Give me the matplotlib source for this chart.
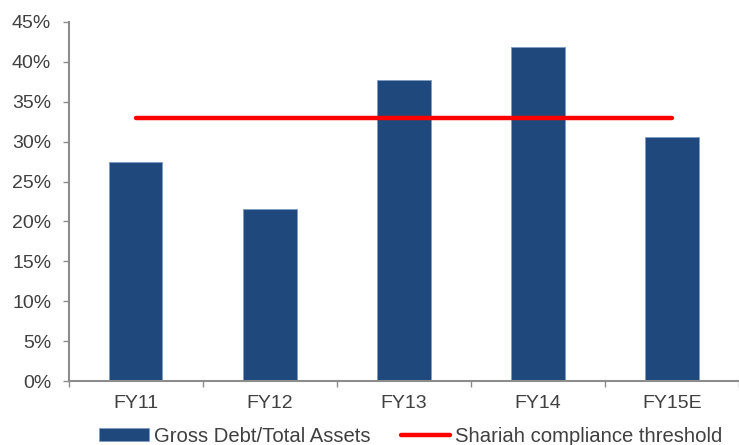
import numpy as np
import matplotlib
matplotlib.use("Agg")
import matplotlib.pyplot as plt
from matplotlib.ticker import PercentFormatter

years = ["FY11", "FY12", "FY13", "FY14", "FY15E"]
debt_to_assets = [27.4, 21.5, 37.7, 41.9, 30.6]
threshold = [33.0, 33.0, 33.0, 33.0, 33.0]

plt.rcParams['font.family'] = ['Liberation Sans', 'DejaVu Sans']
plt.rcParams['font.size'] = 14
text_col = '#404040'
axis_col = '#8c8c8c'

fig = plt.figure(figsize=(7.39, 4.45), dpi=100)
ax = fig.add_axes([0.0928, 0.1438, 0.9072, 0.8068])

x = np.arange(len(years))
bars = ax.bar(x, debt_to_assets, width=0.40, color='#1f497d', edgecolor='#7f9cc4',
              linewidth=0.6, label='Gross Debt/Total Assets', zorder=2)
line, = ax.plot(x, threshold, color='#ff0000', linewidth=3.2, solid_capstyle='round',
                label='Shariah compliance threshold', zorder=3)

ax.set_ylim(0, 45)
ax.set_yticks(np.arange(0, 46, 5))
ax.yaxis.set_major_formatter(PercentFormatter(decimals=0))
ax.set_xlim(-0.5, 4.475)
ax.set_xticks(x)
ax.set_xticklabels(years)
ax.set_xticks(np.arange(-0.5, 5, 1), minor=True)
ax.tick_params(axis='x', which='major', length=0, pad=10, colors=text_col, labelsize=14)
ax.tick_params(axis='x', which='minor', length=4, width=1, color=axis_col, direction='out')
ax.tick_params(axis='y', length=4.5, width=1, color=axis_col, labelcolor=text_col,
               labelsize=14, pad=8)

for s in ['top', 'right']:
    ax.spines[s].set_visible(False)
for s in ['left', 'bottom']:
    ax.spines[s].set_color(axis_col)
    ax.spines[s].set_linewidth(1.5)

fig.legend(handles=[bars, line], loc='center', bbox_to_anchor=(0.556, 0.019), ncol=2,
           frameon=False, handlelength=2.45, handleheight=0.6, handletextpad=0.25,
           columnspacing=1.5, labelcolor=text_col, fontsize=14.6, borderpad=0)

fig.savefig('out.png', dpi=100)
